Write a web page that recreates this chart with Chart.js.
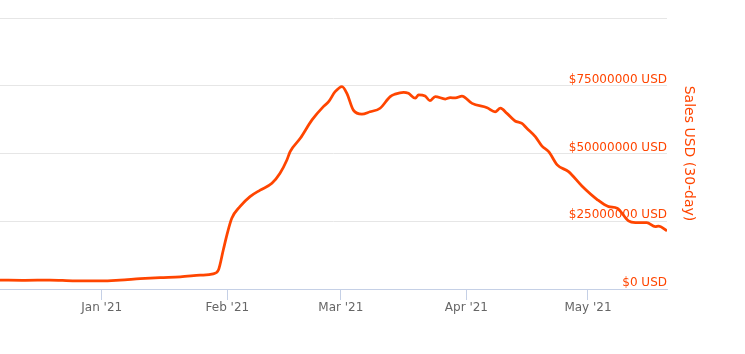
<!DOCTYPE html>
<html>
<head>
<meta charset="utf-8">
<script src="https://cdn.jsdelivr.net/npm/chart.js@4/dist/chart.umd.min.js"></script>
<style>
  html, body { margin: 0; padding: 0; background: #ffffff; }
  #wrap { width: 745px; height: 354px; position: relative; }
</style>
</head>
<body>
<div id="wrap"><canvas id="c" width="745" height="354"></canvas></div>
<script>
// Days counted from 1 Jan 2021 (day 0)
const days = [-25.1, -18.9, -12.8, -6.6, 0, 4.5, 9.5, 14.4, 19.4, 24.3, 27.5, 28.8, 30, 30.9, 32.1, 34.1, 36.6, 39.1, 42, 44, 45.7, 46.5, 49, 51.9, 54.7, 56, 57.6, 59.3, 60.5, 62.1, 64.2, 66.2, 68.7, 71.2, 72.4, 74.5, 75.7, 77.4, 78.2, 79.8, 81, 82.3, 84.8, 86, 87.3, 88.9, 91.4, 95.1, 97.1, 98.4, 100, 102, 103.7, 104.9, 107, 108.6, 110.3, 112.4, 115.2, 118.5, 122.2, 125.1, 127.2, 130, 131.7, 134.5, 136.6, 137.4, 139.5];
// Sales USD (30-day), millions
const salesMillions = [3.3, 3.2, 3.3, 3.0, 3.0, 3.3, 3.8, 4.2, 4.5, 5.1, 5.6, 7.0, 14.4, 20.0, 26.1, 30.4, 34.1, 36.5, 39.0, 42.7, 47.6, 50.7, 55.6, 62.4, 67.3, 69.1, 72.8, 74.7, 72.2, 66.0, 64.5, 65.4, 66.7, 71.0, 71.9, 72.6, 72.2, 70.4, 71.6, 71.2, 69.5, 71.0, 70.1, 70.6, 70.5, 71.2, 68.5, 66.9, 65.4, 66.7, 64.8, 62.0, 61.1, 59.3, 56.2, 52.8, 50.7, 45.8, 43.3, 38.0, 33.1, 30.4, 29.8, 25.1, 24.5, 24.5, 23.0, 23.2, 21.5];
const monthTickDays = [-31, 0, 31, 59, 90, 120];
const monthTickLabels = ["Dec '20", "Jan '21", "Feb '21", "Mar '21", "Apr '21", "May '21"];
const yTicks = [0, 25000000, 50000000, 75000000, 100000000];
const seriesName = "Sales USD (30-day)";

const points = days.map((d, i) => ({ x: d, y: salesMillions[i] * 1000000 }));
const ORANGE = '#ff4500';
const FONT = "'DejaVu Sans', sans-serif";

new Chart(document.getElementById('c'), {
  type: 'line',
  data: {
    datasets: [{
      label: seriesName,
      data: points,
      borderColor: ORANGE,
      borderWidth: 2.75,
      pointRadius: 0,
      tension: 0.4,
      cubicInterpolationMode: 'monotone',
      fill: false
    }]
  },
  options: {
    responsive: false,
    animation: false,
    layout: { padding: { left: 0, right: 44, top: 18, bottom: 0 } },
    plugins: { legend: { display: false }, tooltip: { enabled: false } },
    scales: {
      x: {
        type: 'linear',
        min: -25.1,
        max: 139.5,
        afterBuildTicks: (s) => { s.ticks = monthTickDays.map(v => ({ value: v })); },
        afterFit: (s) => { s.height = 65; s.paddingLeft = 0; s.paddingRight = 0; },
        grid: { drawOnChartArea: false, color: '#c5d0e6', tickLength: 11, lineWidth: 1 },
        border: { color: '#c5d0e6', width: 1 },
        ticks: {
          autoSkip: false, maxRotation: 0, minRotation: 0, padding: 1,
          color: '#666666', font: { family: FONT, size: 12 },
          callback: (v) => { const i = monthTickDays.indexOf(v); return i >= 0 ? monthTickLabels[i] : ''; }
        }
      },
      y: {
        position: 'right',
        min: 0,
        max: 100000000,
        afterBuildTicks: (s) => { s.ticks = yTicks.map(v => ({ value: v })); },
        afterFit: (s) => { s.width = 34; },
        grid: { color: '#e6e6e6', drawTicks: false, lineWidth: 1 },
        border: { display: false },
        ticks: {
          mirror: true, padding: 0, labelOffset: -6,
          color: ORANGE, font: { family: FONT, size: 12 },
          callback: (v) => v === 100000000 ? '' : '$' + v + ' USD'
        },
        title: {
          display: true, text: seriesName, color: ORANGE,
          font: { family: FONT, size: 14 }, padding: { top: 4, bottom: 4 }
        }
      }
    }
  }
});
</script>
</body>
</html>
